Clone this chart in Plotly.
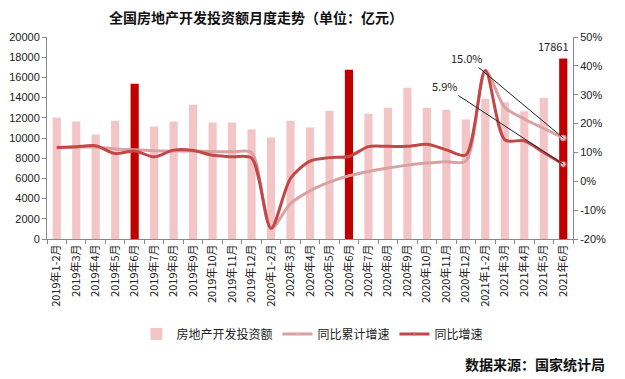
import plotly.graph_objects as go

categories = ["2019年1-2月", "2019年3月", "2019年4月", "2019年5月", "2019年6月", "2019年7月",
              "2019年8月", "2019年9月", "2019年10月", "2019年11月", "2019年12月",
              "2020年1-2月", "2020年3月", "2020年4月", "2020年5月", "2020年6月", "2020年7月",
              "2020年8月", "2020年9月", "2020年10月", "2020年11月", "2020年12月",
              "2021年1-2月", "2021年3月", "2021年4月", "2021年5月", "2021年6月"]

investment = [12020, 11630, 10340, 11720, 15370, 11130, 11630, 13300, 11530, 11530, 10840,
              10050, 11720, 11030, 12710, 16750, 12410, 13000, 14970, 13000, 12800, 11820,
              13890, 13530, 12640, 13960, 17861]

cumulative_yoy = [11.6, 11.8, 11.9, 11.2, 10.9, 10.6, 10.5, 10.5, 10.3, 10.2, 9.9,
                  -16.3, -7.7, -3.3, -0.3, 1.9, 3.4, 4.6, 5.6, 6.3, 6.8, 7.0,
                  38.3, 25.6, 21.6, 18.3, 15.0]

monthly_yoy = [11.7, 12.0, 12.3, 9.6, 10.5, 8.5, 10.8, 10.7, 9.0, 8.5, 8.0,
               -16.3, 1.0, 7.0, 8.2, 8.6, 12.0, 12.1, 12.1, 12.8, 10.9, 9.1,
               38.4, 14.4, 14.0, 10.0, 5.9]

highlight = ["2019年6月", "2020年6月", "2021年6月"]

left_ticks = list(range(0, 20001, 2000))
left_labels = [str(v) for v in left_ticks]
right_ticks = list(range(-20, 51, 10))
right_labels = [f"{v}%" for v in right_ticks]

PINK = "#f3c5c6"
DARK = "#c00000"
CUM = "#d9a1a1"
MON = "#c44748"
FONT = "Noto Sans CJK SC"

bar_colors = [DARK if c in highlight else PINK for c in categories]
n = len(categories)
end_sizes = [0] * (n - 1) + [6]

fig = go.Figure()
fig.add_trace(go.Bar(x=categories, y=investment, name="房地产开发投资额",
                     marker=dict(color=bar_colors, line=dict(width=0)), yaxis="y"))
fig.add_trace(go.Scatter(x=categories, y=cumulative_yoy, name="同比累计增速", yaxis="y2",
                         mode="lines+markers", line=dict(color=CUM, width=3, shape="spline", smoothing=0.8),
                         marker=dict(size=end_sizes, color="white", line=dict(color=CUM, width=1))))
fig.add_trace(go.Scatter(x=categories, y=monthly_yoy, name="同比增速", yaxis="y2",
                         mode="lines+markers", line=dict(color=MON, width=3, shape="spline", smoothing=0.8),
                         marker=dict(size=end_sizes, color="white", line=dict(color=MON, width=1))))

last = categories[-1]
fig.add_annotation(x=last, y=investment[-1], yref="y", text=str(investment[-1]), showarrow=False,
                   yshift=13, xshift=-10, font=dict(size=11, color="#222", family=FONT))
fig.add_annotation(x=last, y=cumulative_yoy[-1], yref="y2", text=f"{cumulative_yoy[-1]:.1f}%",
                   showarrow=True, arrowhead=0, arrowwidth=1, arrowcolor="#222", ax=-96, ay=-80,
                   font=dict(size=11, color="#222", family=FONT))
fig.add_annotation(x=last, y=monthly_yoy[-1], yref="y2", text=f"{monthly_yoy[-1]:.1f}%",
                   showarrow=True, arrowhead=0, arrowwidth=1, arrowcolor="#222", ax=-119, ay=-78,
                   font=dict(size=11, color="#222", family=FONT))
fig.add_annotation(xref="paper", yref="paper", x=1.065, y=-0.62, xanchor="right", yanchor="middle",
                   text="<b>数据来源：国家统计局</b>", showarrow=False,
                   font=dict(size=14, color="#111", family=FONT))

fig.update_layout(
    width=617, height=371,
    margin=dict(l=39, r=52, t=29, b=140, autoexpand=False),
    paper_bgcolor="white", plot_bgcolor="white",
    title=dict(text="<b>全国房地产开发投资额月度走势（单位：亿元）</b>", x=0.402, xanchor="center",
               y=0.972, yanchor="middle", font=dict(size=14, color="#111", family=FONT)),
    font=dict(family=FONT, size=11, color="#222"),
    bargap=0.58,
    showlegend=True,
    legend=dict(orientation="h", x=0.17, xanchor="left", y=-0.47, yanchor="middle",
                font=dict(size=12, color="#222", family=FONT), itemwidth=30,
                bgcolor="rgba(0,0,0,0)"),
    xaxis=dict(type="category", range=[-0.5, n - 0.5], tickangle=-90, showline=True,
               linecolor="#888", linewidth=1, ticks="outside", ticklen=4, tickcolor="#888",
               tickson="boundaries", showgrid=False, automargin=False,
               tickfont=dict(size=11, family=FONT)),
    yaxis=dict(range=[0, 20000], tickvals=left_ticks, ticktext=left_labels, showline=True,
               linecolor="#888", ticks="outside", ticklen=4, tickcolor="#888", showgrid=False,
               zeroline=False, automargin=False, tickfont=dict(size=11, family="Liberation Sans")),
    yaxis2=dict(range=[-20, 50], tickvals=right_ticks, ticktext=right_labels, overlaying="y",
                side="right", showline=True, linecolor="#888", ticks="outside", ticklen=4,
                tickcolor="#888", showgrid=False, zeroline=False, automargin=False,
                tickfont=dict(size=11, family="Liberation Sans")),
)

fig.write_html("out.html")
